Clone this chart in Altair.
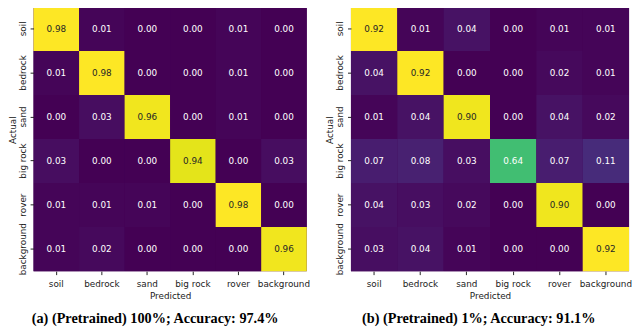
import altair as alt
import pandas as pd

classes = ["soil", "bedrock", "sand", "big rock", "rover", "background"]

cm_a = [
    [0.98, 0.01, 0.00, 0.00, 0.01, 0.00],
    [0.01, 0.98, 0.00, 0.00, 0.01, 0.00],
    [0.00, 0.03, 0.96, 0.00, 0.01, 0.00],
    [0.03, 0.00, 0.00, 0.94, 0.00, 0.03],
    [0.01, 0.01, 0.01, 0.00, 0.98, 0.00],
    [0.01, 0.02, 0.00, 0.00, 0.00, 0.96],
]

cm_b = [
    [0.92, 0.01, 0.04, 0.00, 0.01, 0.01],
    [0.04, 0.92, 0.00, 0.00, 0.02, 0.01],
    [0.01, 0.04, 0.90, 0.00, 0.04, 0.02],
    [0.07, 0.08, 0.03, 0.64, 0.07, 0.11],
    [0.04, 0.03, 0.02, 0.00, 0.90, 0.00],
    [0.03, 0.04, 0.01, 0.00, 0.00, 0.92],
]

caption_a = "(a) (Pretrained) 100%; Accuracy: 97.4%"
caption_b = "(b) (Pretrained) 1%; Accuracy: 91.1%"


def to_df(cm):
    rows = []
    for i, a in enumerate(classes):
        for j, p in enumerate(classes):
            rows.append({"Actual": a, "Predicted": p, "v": cm[i][j]})
    return pd.DataFrame(rows)


def panel(cm, caption, w, h, dx):
    df = to_df(cm)
    vmax = max(max(r) for r in cm)
    cscale = alt.Scale(scheme="viridis", domain=[0, vmax])
    base = alt.Chart(df).encode(
        x=alt.X(
            "Predicted:N",
            sort=classes,
            scale=alt.Scale(paddingInner=0, paddingOuter=0),
            axis=alt.Axis(labelAngle=0, title="Predicted", labelPadding=5, titlePadding=3),
        ),
        y=alt.Y(
            "Actual:N",
            sort=classes,
            scale=alt.Scale(paddingInner=0, paddingOuter=0),
            axis=alt.Axis(
                labelAngle=-90,
                labelAlign="center",
                labelBaseline="bottom",
                title="Actual",
                labelPadding=3,
                titlePadding=1,
                titleY=125,
            ),
        ),
    )
    rect = base.mark_rect(strokeWidth=0).encode(
        color=alt.Color("v:Q", scale=cscale, legend=None),
    )
    text = base.mark_text(font="DejaVu Sans", fontSize=9).encode(
        text=alt.Text("v:Q", format=".2f"),
        color=alt.condition(alt.datum.v > 0.75, alt.value("#262626"), alt.value("white")),
    )
    return alt.layer(rect, text).properties(
        width=w,
        height=h,
        title=alt.TitleParams(
            caption,
            orient="bottom",
            frame="bounds",
            anchor="middle",
            font="Liberation Serif",
            fontWeight="bold",
            fontSize=14.5,
            offset=12,
            dx=dx,
            color="black",
        ),
    )


chart = (
    alt.hconcat(
        panel(cm_a, caption_a, 278, 269, -4),
        panel(cm_b, caption_b, 283, 269, 0),
        spacing=16,
    )
    .resolve_scale(color="independent")
    .properties(padding={"left": 0, "top": -4, "right": 0, "bottom": 0}, background="white")
    .configure_view(stroke=None, fill="#440154")
    .configure_axis(
        labelFont="DejaVu Sans",
        labelFontSize=9,
        labelColor="#222222",
        titleFont="DejaVu Sans",
        titleFontSize=9,
        titleFontWeight="normal",
        titleColor="#222222",
        domain=False,
        grid=False,
        ticks=True,
        tickSize=3.5,
        tickColor="#222222",
    )
)

chart.save("out.html", embed_options={"renderer": "svg", "actions": False})
